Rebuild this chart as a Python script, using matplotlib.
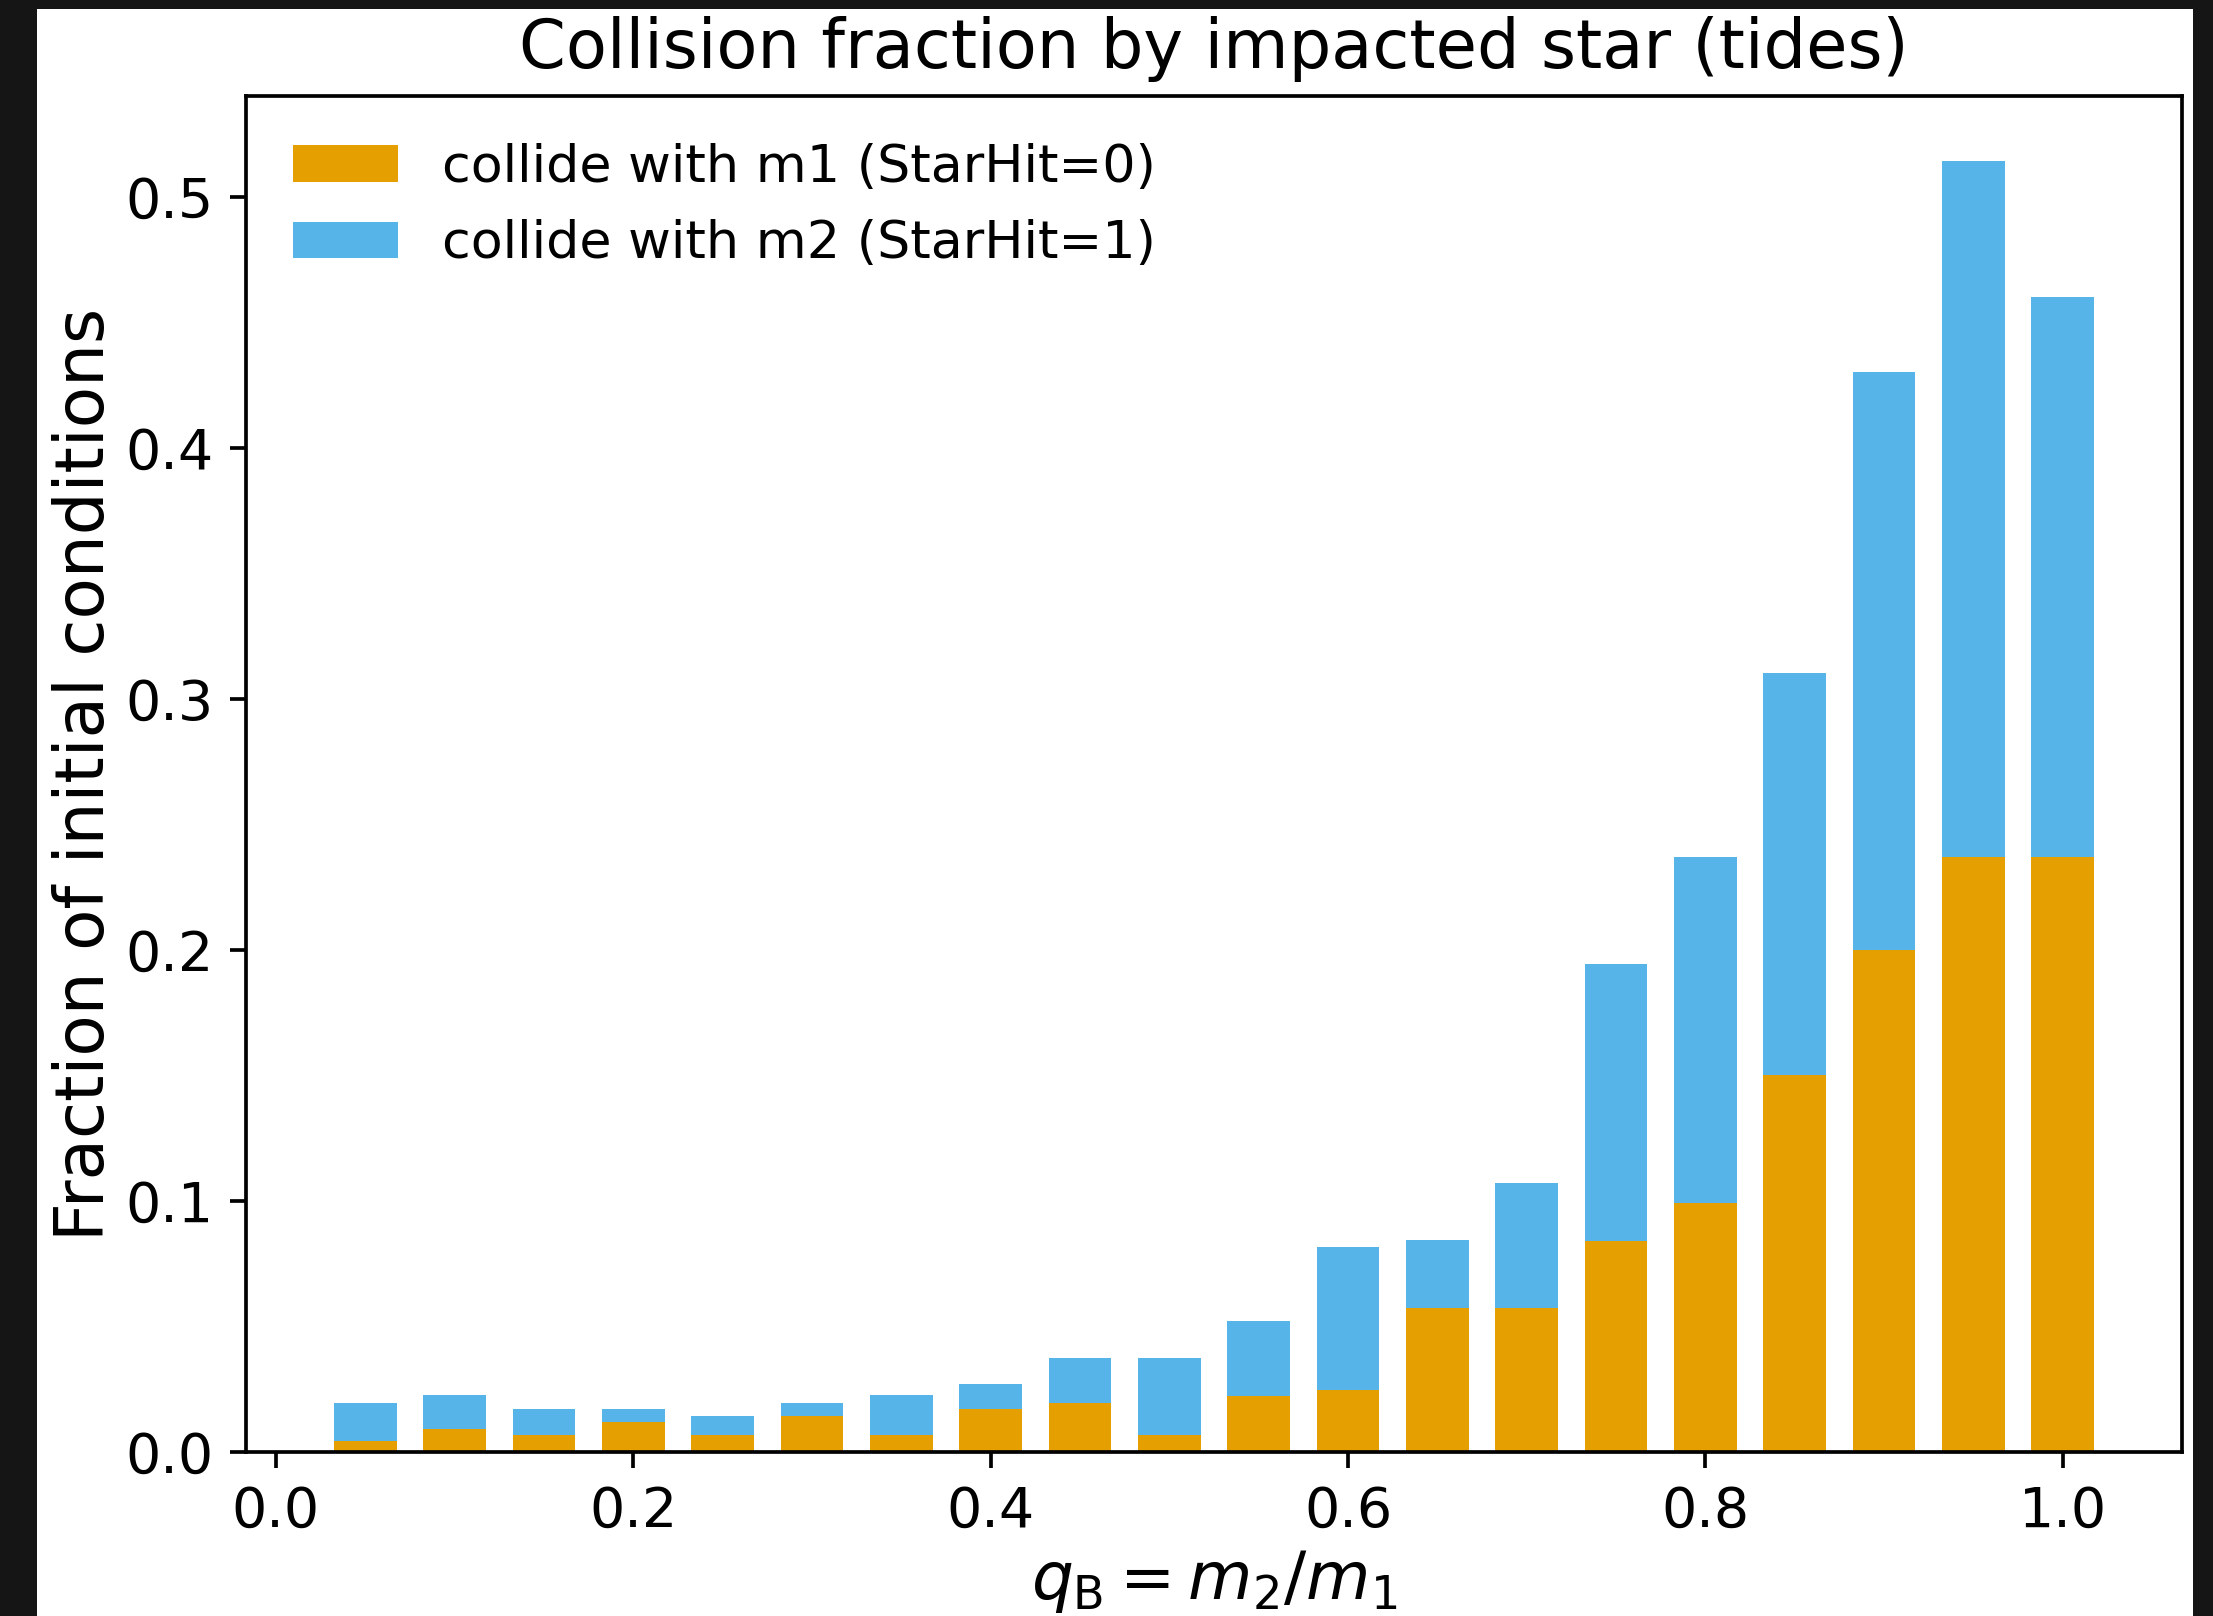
import matplotlib
matplotlib.use("Agg")
import matplotlib.pyplot as plt
from matplotlib.patches import Rectangle

# === Data ===
q_bins = [0.05, 0.10, 0.15, 0.20, 0.25, 0.30, 0.35, 0.40, 0.45, 0.50,
          0.55, 0.60, 0.65, 0.70, 0.75, 0.80, 0.85, 0.90, 0.95, 1.00]
frac_m1 = [0.0045, 0.0090, 0.0068, 0.0118, 0.0068, 0.0143, 0.0068, 0.0172, 0.0196, 0.0068,
           0.0224, 0.0247, 0.0574, 0.0574, 0.0842, 0.0991, 0.1502, 0.2000, 0.2371, 0.2371]
frac_m2 = [0.0151, 0.0136, 0.0104, 0.0054, 0.0075, 0.0053, 0.0158, 0.0098, 0.0177, 0.0305,
           0.0298, 0.0571, 0.0269, 0.0499, 0.1104, 0.1380, 0.1601, 0.2302, 0.2774, 0.2232]

label_m1 = "collide with m1 (StarHit=0)"
label_m2 = "collide with m2 (StarHit=1)"
color_m1 = "#E69F00"
color_m2 = "#56B4E9"

DPI = 333
fig = plt.figure(figsize=(2213 / DPI, 1616 / DPI), dpi=DPI)
# screenshot look: dark frame with the white figure inside
fig.patch.set_facecolor("#151515")
bg = Rectangle((37 / 2213, 0), (2193 - 37) / 2213, 1 - 9 / 1616,
               transform=fig.transFigure, facecolor="white",
               edgecolor="none", zorder=-10)
fig.add_artist(bg)

ax = fig.add_axes([246 / 2213, 1 - 1452 / 1616, (2182 - 246) / 2213, (1452 - 96) / 1616])
ax.set_zorder(1)
ax.set_facecolor("white")

width = 0.035
ax.bar(q_bins, frac_m1, width=width, color=color_m1, label=label_m1)
ax.bar(q_bins, frac_m2, width=width, bottom=frac_m1, color=color_m2, label=label_m2)

ax.set_title("Collision fraction by impacted star (tides)", fontsize=14.5)
ax.set_xlabel(r"$q_{\rm B} = m_2/m_1$", fontsize=14.3, labelpad=2)
ax.set_ylabel("Fraction of initial conditions", fontsize=14.6, labelpad=1.5)
ax.tick_params(labelsize=12)
ax.legend(loc="upper left", frameon=False, fontsize=11.3, handletextpad=0.85)

fig.savefig("out.png", dpi=DPI, facecolor=fig.get_facecolor())
